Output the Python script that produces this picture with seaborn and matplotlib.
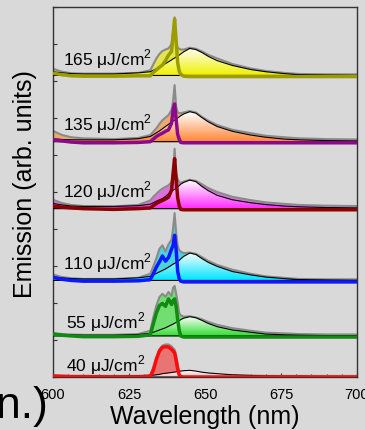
import numpy as np
import pandas as pd
import seaborn as sns
import matplotlib.pyplot as plt
from matplotlib.colors import LinearSegmentedColormap
from matplotlib.patches import Polygon
from matplotlib.ticker import MultipleLocator

# Wavelength grid (nm) shared by all spectra
wl = [600, 603, 606, 610, 620, 628, 632, 633, 634, 635, 636, 637, 638, 639, 639.5,
      640, 640.5, 641, 641.5, 642, 643, 645, 647, 649, 651, 654, 659, 665, 670, 676,
      681, 690, 700]

# Pump fluences, bottom to top, and vertical offsets of each trace
fluences = ['40', '55', '110', '120', '135', '165']
offsets = [0.0, 1.11, 2.61, 4.55, 6.36, 8.15]

# total emission (filled, grey outline)
total_40 = [0.03, 0.03, 0.03, 0.03, 0.03, 0.03, 0.05, 0.27, 0.52, 0.75, 0.85, 0.88, 0.88, 0.83, 0.78,
            0.74, 0.60, 0.36, 0.16, 0.10, 0.08, 0.07, 0.07, 0.06, 0.06, 0.05, 0.04, 0.04, 0.03, 0.03,
            0.03, 0.03, 0.03]
total_55 = [0.08, 0.05, 0.04, 0.03, 0.03, 0.05, 0.14, 0.50, 0.82, 1.05, 1.14, 1.06, 1.19, 1.08, 1.30,
            1.35, 1.15, 0.90, 0.62, 0.56, 0.52, 0.53, 0.50, 0.45, 0.38, 0.30, 0.21, 0.14, 0.09, 0.07,
            0.05, 0.04, 0.04]
total_110 = [0.16, 0.09, 0.06, 0.04, 0.04, 0.07, 0.18, 0.38, 0.60, 0.85, 0.95, 0.78, 0.98, 1.10, 1.40,
             1.82, 1.30, 0.95, 0.82, 0.78, 0.74, 0.75, 0.72, 0.63, 0.53, 0.42, 0.29, 0.18, 0.11, 0.07,
             0.04, 0.03, 0.03]
total_120 = [0.24, 0.15, 0.10, 0.07, 0.06, 0.10, 0.22, 0.32, 0.40, 0.48, 0.54, 0.59, 0.63, 0.72, 0.95,
             1.62, 0.95, 0.80, 0.72, 0.70, 0.73, 0.78, 0.75, 0.66, 0.56, 0.45, 0.32, 0.23, 0.17, 0.13,
             0.10, 0.08, 0.07]
total_135 = [0.29, 0.18, 0.12, 0.09, 0.07, 0.10, 0.18, 0.27, 0.36, 0.48, 0.58, 0.65, 0.72, 0.86, 1.10,
             1.53, 0.95, 0.80, 0.77, 0.77, 0.79, 0.83, 0.79, 0.67, 0.57, 0.45, 0.32, 0.23, 0.16, 0.12,
             0.09, 0.07, 0.06]
total_165 = [0.18, 0.10, 0.06, 0.05, 0.05, 0.07, 0.14, 0.30, 0.46, 0.58, 0.66, 0.70, 0.73, 0.85, 1.15,
             1.57, 0.90, 0.75, 0.72, 0.70, 0.70, 0.75, 0.72, 0.65, 0.56, 0.46, 0.31, 0.19, 0.12, 0.07,
             0.04, 0.03, 0.03]

# broad spontaneous component (gradient fill, black outline)
broad_40 = [0.02, 0.02, 0.02, 0.02, 0.02, 0.03, 0.04, 0.05, 0.06, 0.07, 0.09, 0.10, 0.11, 0.12, 0.13,
            0.13, 0.14, 0.15, 0.16, 0.16, 0.17, 0.18, 0.16, 0.13, 0.11, 0.09, 0.06, 0.04, 0.03, 0.02,
            0.02, 0.01, 0.01]
broad_55 = [0.06, 0.04, 0.03, 0.02, 0.02, 0.04, 0.07, 0.10, 0.13, 0.16, 0.19, 0.22, 0.26, 0.30, 0.32,
            0.34, 0.37, 0.39, 0.41, 0.44, 0.48, 0.52, 0.49, 0.42, 0.34, 0.25, 0.16, 0.10, 0.05, 0.03,
            0.02, 0.01, 0.00]
broad_110 = [0.10, 0.07, 0.05, 0.04, 0.04, 0.07, 0.11, 0.15, 0.19, 0.23, 0.27, 0.31, 0.36, 0.41, 0.44,
             0.46, 0.48, 0.51, 0.54, 0.58, 0.65, 0.74, 0.70, 0.59, 0.49, 0.38, 0.24, 0.15, 0.09, 0.05,
             0.02, 0.01, 0.00]
broad_120 = [0.14, 0.10, 0.07, 0.06, 0.06, 0.08, 0.12, 0.16, 0.20, 0.24, 0.27, 0.33, 0.40, 0.47, 0.50,
             0.52, 0.55, 0.58, 0.62, 0.66, 0.71, 0.77, 0.73, 0.60, 0.49, 0.36, 0.24, 0.16, 0.11, 0.07,
             0.05, 0.03, 0.02]
broad_135 = [0.08, 0.06, 0.05, 0.05, 0.05, 0.08, 0.14, 0.19, 0.24, 0.29, 0.35, 0.41, 0.47, 0.53, 0.56,
             0.58, 0.61, 0.64, 0.67, 0.70, 0.75, 0.81, 0.77, 0.65, 0.54, 0.41, 0.28, 0.18, 0.12, 0.07,
             0.05, 0.03, 0.02]
broad_165 = [0.10, 0.07, 0.05, 0.04, 0.04, 0.07, 0.10, 0.14, 0.18, 0.22, 0.27, 0.32, 0.37, 0.42, 0.45,
             0.47, 0.50, 0.52, 0.55, 0.58, 0.64, 0.73, 0.70, 0.62, 0.52, 0.40, 0.27, 0.16, 0.10, 0.05,
             0.02, 0.01, 0.00]

# narrow lasing component (thick line)
laser_40 = [0.03, 0.02, 0.01, 0.01, 0.00, 0.00, 0.02, 0.18, 0.48, 0.70, 0.80, 0.82, 0.81, 0.75, 0.70,
            0.65, 0.45, 0.22, 0.06, 0.01, 0.00, 0.00, 0.00, 0.00, 0.00, 0.00, 0.00, 0.00, 0.00, 0.00,
            0.00, 0.00, 0.00]
laser_55 = [0.05, 0.02, 0.00, -0.02, -0.02, -0.01, 0.03, 0.33, 0.62, 0.82, 0.88, 0.80, 1.00, 0.85, 0.95,
            1.00, 0.80, 0.45, 0.16, 0.00, -0.03, -0.03, -0.03, -0.03, -0.03, -0.03, -0.03, -0.03, -0.03,
            -0.03, -0.03, -0.03, -0.03]
laser_110 = [0.08, 0.03, 0.00, -0.02, -0.02, -0.01, 0.02, 0.18, 0.36, 0.50, 0.66, 0.52, 0.62, 0.85, 0.95,
             1.22, 0.85, 0.25, 0.05, -0.02, -0.04, -0.04, -0.04, -0.04, -0.04, -0.04, -0.04, -0.04,
             -0.04, -0.04, -0.04, -0.04, -0.04]
laser_120 = [0.07, 0.04, 0.02, 0.00, -0.02, 0.00, 0.02, 0.08, 0.14, 0.18, 0.22, 0.26, 0.31, 0.50, 0.95,
             1.35, 0.80, 0.30, 0.08, -0.02, -0.03, -0.03, -0.03, -0.03, -0.03, -0.03, -0.03, -0.03,
             -0.03, -0.03, -0.03, -0.03, -0.03]
laser_135 = [0.05, 0.02, -0.01, -0.03, -0.03, -0.02, 0.00, 0.07, 0.14, 0.19, 0.23, 0.28, 0.32, 0.50, 0.86,
             1.02, 0.60, 0.20, 0.07, -0.02, -0.03, -0.03, -0.03, -0.03, -0.03, -0.03, -0.03, -0.03,
             -0.03, -0.03, -0.03, -0.03, -0.03]
laser_165 = [0.06, 0.02, -0.01, -0.02, -0.02, -0.01, -0.01, 0.08, 0.15, 0.22, 0.28, 0.40, 0.55, 0.65, 1.10,
             1.52, 0.95, 0.35, 0.12, 0.03, -0.02, -0.03, -0.03, -0.03, -0.03, -0.03, -0.03, -0.03,
             -0.03, -0.03, -0.03, -0.03, -0.03]

totals = [total_40, total_55, total_110, total_120, total_135, total_165]
broads = [broad_40, broad_55, broad_110, broad_120, broad_135, broad_165]
lasers = [laser_40, laser_55, laser_110, laser_120, laser_135, laser_165]

fill_colors = ['#e87474', '#72de72', '#4cd4dc', '#de70de', '#eeaa6c', '#e4e44c']
grad_colors = ['#ffb8b8', '#2edc2e', '#00e4ff', '#ff28ff', '#ff8433', '#f0f000']
line_colors = ['#ff0a0a', '#108a10', '#0c18ff', '#8b0000', '#8b0a8b', '#9c9c00']
label_x = [604.3, 604.3, 603.3, 603.3, 603.3, 603.3]
label_y = [0.33, 1.47, 3.07, 5.03, 6.84, 8.59]

bg = '#d9d9d9'
sns.set_theme(style='white', rc={'axes.facecolor': bg, 'figure.facecolor': bg,
                                 'text.color': 'black', 'axes.labelcolor': 'black',
                                 'xtick.color': 'black', 'ytick.color': 'black'})
plt.rcParams['font.family'] = ['Liberation Sans', 'DejaVu Sans']
plt.rcParams['mathtext.fontset'] = 'custom'
plt.rcParams['mathtext.rm'] = 'Liberation Sans'

fig = plt.figure(figsize=(3.65, 4.3), dpi=100)
ax = fig.add_axes([53 / 365, 53 / 430, 304 / 365, 370 / 430])

x = np.array(wl)
ramp = np.linspace(0, 1, 256).reshape(-1, 1)
for i in range(len(fluences)):
    base = offsets[i]
    df = pd.DataFrame({'wl': x,
                       'total': base + np.array(totals[i]),
                       'broad': base + np.array(broads[i]),
                       'laser': base + np.array(lasers[i])})

    # total spectrum
    ax.fill_between(df['wl'], base, df['total'], color=fill_colors[i], lw=0, zorder=1)
    sns.lineplot(data=df, x='wl', y='total', color='#8a8a8a', lw=1.5, ax=ax, zorder=2)

    # broad component with white-to-colour gradient
    poly = Polygon(np.column_stack([np.r_[x, x[::-1]],
                                    np.r_[df['broad'], np.full(len(x), base)]]),
                   closed=True, fc='none', ec='none')
    ax.add_patch(poly)
    cmap = LinearSegmentedColormap.from_list(f'g{i}', ['white', grad_colors[i]])
    im = ax.imshow(ramp, cmap=cmap, extent=(600, 700, base, df['broad'].max()),
                   aspect='auto', origin='upper', zorder=3)
    im.set_clip_path(poly)
    ax.fill_between(df['wl'], base, df['broad'], facecolor='none', edgecolor='black',
                    lw=0.8, zorder=4)

    # lasing component
    sns.lineplot(data=df, x='wl', y='laser', color=line_colors[i], lw=2.5, ax=ax, zorder=5)

    ax.text(label_x[i], label_y[i], f'{fluences[i]} μJ/cm$^2$', fontsize=12.5,
            va='center', ha='left', zorder=6)

ax.set_xlim(600, 700)
ax.set_ylim(0, 10)
ax.set_xticks([600, 625, 650, 675, 700])
ax.xaxis.set_minor_locator(MultipleLocator(5))
ax.set_yticks(range(11))
ax.set_yticklabels([])
ax.set_xlabel('')
ax.set_ylabel('')
ax.tick_params(which='major', direction='in', length=3, width=0.8, color='#333333',
               labelsize=10.5, pad=8, bottom=True, left=True, top=False, right=False)
ax.tick_params(which='minor', direction='in', length=2, width=0.8, color='#333333',
               bottom=True, left=False)
for s in ax.spines.values():
    s.set_color('#333333')
    s.set_linewidth(1.0)

fig.text(205 / 365, 6 / 430, 'Wavelength (nm)', fontsize=18, ha='center', va='baseline')
fig.text(25 / 365, 1 - 184 / 430, 'Emission (arb. units)', fontsize=18, rotation=90,
         ha='center', va='center')
fig.text(48 / 365, 12 / 430, 'n.)', fontsize=32, ha='right', va='baseline')

fig.savefig('out.png', dpi=100, facecolor=bg)
